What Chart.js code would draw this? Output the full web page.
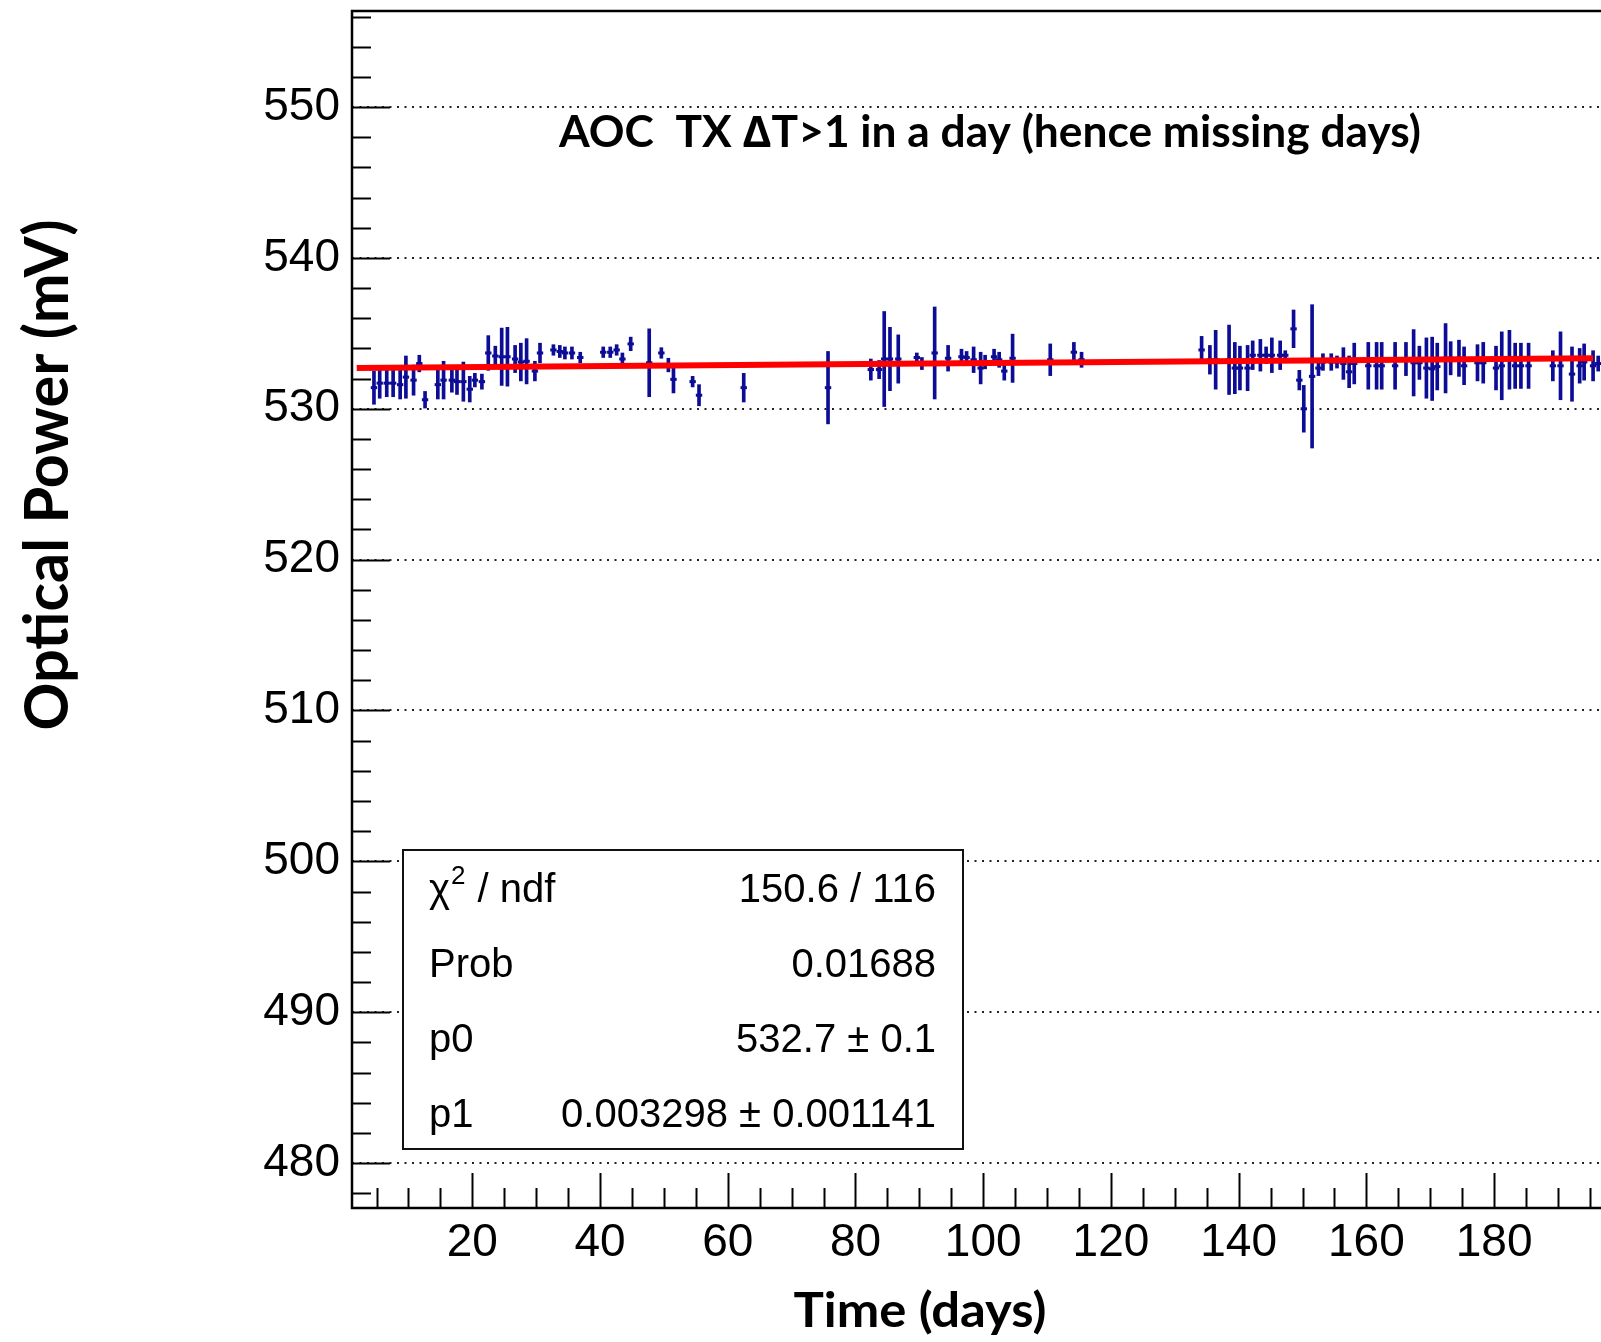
<!DOCTYPE html>
<html>
<head>
<meta charset="utf-8">
<script src="https://cdn.jsdelivr.net/npm/chart.js@4.4.0/dist/chart.umd.min.js"></script>
<style>
  html, body { margin: 0; padding: 0; background: #fff; }
  #wrap { width: 1601px; height: 1342px; position: relative; }
</style>
</head>
<body>
<div id="wrap"><canvas id="chart"></canvas></div>
<script>
// daily averages
const days = [
  4.6, 5.5, 6.6, 7.6, 8.7, 9.6, 10.8, 11.7, 12.6, 14.6, 15.5, 16.8, 17.6, 18.6, 19.6, 20.4, 21.5,
  22.5, 23.6, 24.6, 25.5, 26.7, 27.6, 28.5, 29.8, 30.6, 32.7, 33.7, 34.5, 35.6, 36.9,
  40.5, 41.6, 42.6, 43.5, 44.8, 47.7, 49.6, 50.7, 51.5, 54.5, 55.5, 62.5, 75.7, 82.4, 83.7,
  84.5, 85.4, 86.7, 89.6, 90.4, 92.4, 94.5, 96.6, 97.4, 98.5, 99.6, 100.3, 101.7, 102.5, 103.3,
  104.6, 110.5, 114.2, 115.4,
  134.2, 135.5, 136.4, 138.5, 139.4, 140.2, 141.4, 142.2, 143.4, 144.3, 145.2, 146.5, 147.3,
  148.6, 149.5, 150.2, 151.5, 152.5, 153.2, 154.5, 155.4, 156.4, 157.3, 158.1, 160.3, 161.6,
  162.4, 164.5, 166.2, 167.4, 168.3, 169.4, 170.3, 171.1, 172.4, 173.2, 174.5, 175.3, 177.4,
  178.3, 180.3, 181.2, 182.4, 183.3, 184.2, 185.4, 189.2, 190.4, 192.2, 193.4, 194.1, 195.5, 196.3
];
const power = [
  531.4, 531.7, 531.7, 531.7, 531.6, 532.1, 531.9, 533.0, 530.6, 531.6, 531.9, 531.9, 531.8, 531.8, 531.3, 531.9, 531.8,
  533.7, 533.5, 533.45, 533.45, 533.3, 533.1, 533.15, 532.5, 533.7, 533.9, 533.8, 533.7, 533.7, 533.4,
  533.75, 533.75, 533.9, 533.3, 534.3, 533.05, 533.7, 532.9, 531.95, 531.8, 530.9, 531.4, 531.4, 532.6, 532.6,
  533.3, 533.3, 533.3, 533.4, 533.0, 533.7, 533.35, 533.45, 533.4, 533.25, 532.7, 533.1, 533.45, 533.25, 532.5,
  533.35, 533.25, 533.75, 533.25,
  533.9, 533.25, 533.25, 533.25, 532.7, 532.7, 532.7, 533.55, 533.55, 533.55, 533.55, 533.55, 533.55,
  535.3, 531.9, 530.0, 532.15, 532.7, 533.1, 533.1, 533.1, 533.0, 532.45, 533.0, 532.85, 532.85,
  532.85, 532.85, 533.3, 533.05, 533.05, 532.7, 532.65, 532.8, 533.35, 533.35, 533.35, 532.85, 533.05,
  533.05, 532.7, 532.85, 533.25, 532.85, 532.85, 532.85, 532.85, 532.85, 532.3, 532.85, 533.1, 532.85, 533.0
];
const powerErr = [
  1.1, 1.0, 0.9, 0.9, 0.95, 1.4, 1.0, 0.55, 0.55, 0.95, 1.25, 0.8, 0.85, 1.3, 0.85, 0.45, 0.5,
  1.15, 0.65, 1.9, 1.95, 0.9, 1.25, 1.5, 0.65, 0.65, 0.35, 0.4, 0.4, 0.4, 0.35,
  0.35, 0.35, 0.35, 0.4, 0.45, 2.25, 0.35, 0.45, 0.9, 0.35, 0.7, 0.95, 2.4, 0.7, 0.6,
  3.15, 2.1, 1.6, 0.3, 0.4, 3.05, 0.85, 0.5, 0.4, 0.85, 1.05, 0.45, 0.5, 0.5, 0.6,
  1.6, 1.05, 0.65, 0.5,
  0.9, 0.95, 1.95, 2.3, 1.7, 1.45, 1.5, 0.95, 1.05, 0.55, 1.15, 0.95, 0.3,
  1.25, 0.65, 1.55, 4.75, 0.5, 0.55, 0.55, 0.4, 1.05, 1.05, 1.35, 1.55, 1.55,
  1.55, 1.55, 1.1, 2.2, 1.1, 2.0, 2.1, 1.55, 2.3, 1.1, 1.2, 1.25, 1.2,
  1.35, 1.45, 2.25, 1.95, 1.5, 1.5, 1.5, 1.0, 2.25, 1.8, 1.15, 1.2, 1.0, 0.5
];
const dayErr = 0.5;

// linear fit
const fitP0 = 532.7;
const fitP1 = 0.003298;
const fitRange = [1.9, 195.5];

const yTickLabels = [480, 490, 500, 510, 520, 530, 540, 550];
const xTickLabels = [20, 40, 60, 80, 100, 120, 140, 160, 180];

const statsLabels = ['χ', 'Prob', 'p0', 'p1'];
const statsValues = ['150.6 / 116', '0.01688', '532.7 ± 0.1', '0.003298 ± 0.001141'];

const titleText = 'AOC  TX \u2206T>1 in a day (hence missing days)';
const yTitle = 'Optical Power (mV)';
const xTitle = 'Time (days)';

const navy = 'rgb(12,12,150)';
const tickFont = { family: '"Liberation Sans", Arial, sans-serif', size: 46 };

// bold title text, sized by cap height and squeezed to a target width
function fitText(ctx, text, x, y, capH, width, rot) {
  const size = capH / 0.7165;
  ctx.save();
  ctx.font = 'bold ' + size + 'px Lato, "Open Sans", sans-serif';
  const w = ctx.measureText(text).width;
  ctx.translate(x, y);
  ctx.rotate(rot);
  ctx.scale(width / w, 1);
  ctx.textAlign = 'center';
  ctx.textBaseline = 'alphabetic';
  ctx.fillStyle = '#000';
  ctx.fillText(text, 0, 0);
  ctx.restore();
}

const rootFrame = {
  id: 'rootFrame',
  afterDatasetsDraw(chart) {
    const ctx = chart.ctx;
    const { left, right, top, bottom } = chart.chartArea;
    const x = chart.scales.x, y = chart.scales.y;
    ctx.save();
    ctx.strokeStyle = '#000';
    ctx.lineCap = 'butt';
    // ticks pointing inwards
    ctx.lineWidth = 2;
    for (let v = yTickLabels[0] - 2; v <= y.max; v += 2) {
      const py = Math.round(y.getPixelForValue(v)) + 0.5;
      const len = (v % 10 === 0) ? 38 : 19;
      ctx.beginPath(); ctx.moveTo(left, py); ctx.lineTo(left + len, py); ctx.stroke();
    }
    for (let v = 5; v < x.max; v += 5) {
      const px = Math.round(x.getPixelForValue(v)) + 0.5;
      const len = (v % 20 === 0) ? 35 : 20;
      ctx.beginPath(); ctx.moveTo(px, bottom); ctx.lineTo(px, bottom - len); ctx.stroke();
    }
    // frame
    ctx.lineWidth = 2.5;
    ctx.beginPath();
    ctx.moveTo(right, top); ctx.lineTo(left, top); ctx.lineTo(left, bottom); ctx.lineTo(right, bottom);
    ctx.stroke();
    ctx.restore();
  },
  afterDraw(chart) {
    const ctx = chart.ctx;
    // stats box
    const bx = 403, by = 850, bw = 560, bh = 299;
    ctx.save();
    ctx.fillStyle = '#fff';
    ctx.fillRect(bx, by, bw, bh);
    ctx.strokeStyle = '#111';
    ctx.lineWidth = 2;
    ctx.strokeRect(bx, by, bw, bh);
    ctx.fillStyle = '#000';
    ctx.font = '40px "Liberation Sans", Arial, sans-serif';
    ctx.textBaseline = 'alphabetic';
    const rowH = bh / statsLabels.length;
    statsLabels.forEach((lab, i) => {
      const base = by + rowH * i + rowH / 2 + 15;
      ctx.textAlign = 'left';
      if (i === 0) {
        ctx.fillText(lab, 429, base);
        const w = ctx.measureText(lab).width;
        ctx.font = '26px "Liberation Sans", Arial, sans-serif';
        ctx.fillText('2', 429 + w + 1, base - 18);
        const w2 = ctx.measureText('2').width;
        ctx.font = '40px "Liberation Sans", Arial, sans-serif';
        ctx.fillText(' / ndf', 429 + w + w2 + 2, base);
      } else {
        ctx.fillText(lab, 429, base);
      }
      ctx.textAlign = 'right';
      ctx.fillText(statsValues[i], 936, base);
    });
    ctx.restore();

    fitText(ctx, titleText, 990, 147, 31, 862, 0);
    fitText(ctx, yTitle, 68, 475, 44, 511, -Math.PI / 2);
    fitText(ctx, xTitle, 920, 1327, 34, 253, 0);
  }
};

new Chart(document.getElementById('chart'), {
  type: 'bar',
  data: {
    datasets: [
      {
        type: 'line',
        data: fitRange.map(d => ({ x: d, y: fitP0 + fitP1 * d })),
        borderColor: 'rgb(255,0,0)',
        borderWidth: 6,
        pointRadius: 0,
        order: 0
      },
      {
        type: 'scatter',
        data: days.map((d, i) => ({ x: d, y: power[i] })),
        pointStyle: 'line',
        pointRadius: c => {
          const s = c.chart.scales.x;
          return Math.abs(s.getPixelForValue(dayErr) - s.getPixelForValue(0));
        },
        borderColor: navy,
        borderWidth: 3,
        order: 1
      },
      {
        type: 'bar',
        data: days.map((d, i) => ({ x: d, y: [power[i] - powerErr[i], power[i] + powerErr[i]] })),
        backgroundColor: navy,
        borderWidth: 0,
        barThickness: 3,
        order: 2
      }
    ]
  },
  options: {
    responsive: true,
    maintainAspectRatio: false,
    animation: false,
    events: [],
    layout: { padding: { top: 11, left: 0, right: 0, bottom: 0 } },
    plugins: { legend: { display: false }, tooltip: { enabled: false } },
    scales: {
      x: {
        type: 'linear',
        min: 1.16,
        max: 196.74,
        offset: false,
        grid: { display: false },
        border: { display: false },
        ticks: { font: tickFont, color: '#000', padding: 0, maxRotation: 0, autoSkip: false },
        afterBuildTicks: s => { s.ticks = xTickLabels.map(v => ({ value: v })); },
        afterFit: s => {
          s.height = 134;
          s.paddingLeft = 0; s.paddingRight = 0;
        }
      },
      y: {
        type: 'linear',
        min: 477.02,
        max: 556.37,
        grid: { drawTicks: false, color: '#222', lineWidth: 2 },
        border: { display: false, dash: [2, 5.5] },
        ticks: { font: tickFont, color: '#000', padding: 12, autoSkip: false },
        afterBuildTicks: s => { s.ticks = yTickLabels.map(v => ({ value: v })); },
        afterFit: s => {
          s.width = 352;
          s.paddingTop = 0; s.paddingBottom = 0;
        }
      }
    }
  },
  plugins: [rootFrame]
});
</script>
</body>
</html>
